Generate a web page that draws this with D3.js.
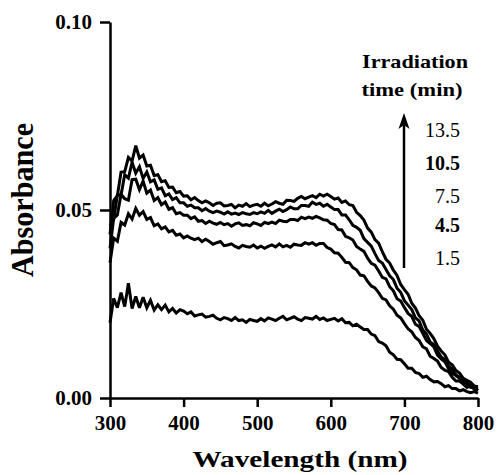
<!DOCTYPE html>
<html>
<head>
<meta charset="utf-8">
<script src="https://cdn.jsdelivr.net/npm/d3@7"></script>
<style>
  html, body { margin: 0; padding: 0; background: #fff; }
  svg { display: block; }
  text { font-family: "Liberation Serif", "Times New Roman", serif; fill: #000; }
</style>
</head>
<body>
<svg id="chart" width="500" height="475"></svg>
<script>
// ---- data ----
const wavelengths = [300,305,310,315,320,325,330,335,340,345,350,355,360,365,370,375,380,385,390,395,
  400,405,410,415,420,425,430,435,440,445,450,455,460,465,470,475,480,485,490,495,
  500,505,510,515,520,525,530,535,540,545,550,555,560,565,570,575,580,585,590,595,
  600,605,610,615,620,625,630,635,640,645,650,655,660,665,670,675,680,685,690,695,
  700,705,710,715,720,725,730,735,740,745,750,755,760,765,770,775,780,785,790,795,800];

const abs1_5 = [.0200,.0265,.0240,.0280,.0243,.0305,.0238,.0270,.0240,.0268,.0240,.0260,.0234,.0248,.0235,.0247,.0229,.0238,.0226,.0235,
  .0231,.0224,.0229,.0218,.0221,.0223,.0215,.0217,.0220,.0212,.0208,.0214,.0211,.0206,.0214,.0206,.0208,.0201,.0209,.0206,
  .0204,.0211,.0205,.0213,.0210,.0206,.0212,.0217,.0208,.0212,.0216,.0210,.0206,.0214,.0212,.0210,.0217,.0209,.0213,.0206,
  .0209,.0212,.0205,.0211,.0200,.0201,.0192,.0196,.0189,.0182,.0182,.0170,.0166,.0150,.0146,.0139,.0122,.0115,.0103,.0102,
  .0091,.0079,.0079,.0068,.0065,.0055,.0058,.0049,.0043,.0044,.0038,.0030,.0033,.0025,.0025,.0019,.0022,.0017,.0014,.0017,.0013];

const abs4_5 = [.0360,.0425,.0417,.0467,.0460,.0490,.0476,.0504,.0486,.0496,.0475,.0480,.0458,.0463,.0450,.0455,.0442,.0446,.0433,.0436,
  .0426,.0431,.0425,.0421,.0425,.0416,.0422,.0416,.0409,.0413,.0416,.0405,.0407,.0410,.0403,.0399,.0406,.0403,.0401,.0407,
  .0399,.0404,.0398,.0403,.0407,.0402,.0410,.0402,.0406,.0401,.0409,.0407,.0406,.0413,.0409,.0413,.0406,.0411,.0411,.0400,
  .0396,.0386,.0385,.0374,.0361,.0360,.0347,.0341,.0327,.0325,.0310,.0298,.0293,.0280,.0265,.0261,.0245,.0236,.0220,.0213,
  .0198,.0184,.0176,.0161,.0153,.0136,.0131,.0111,.0105,.0098,.0081,.0074,.0070,.0055,.0045,.0045,.0037,.0028,.0033,.0023,.0023];

const abs7_5 = [.0398,.0478,.0487,.0542,.0530,.0526,.0581,.0582,.0554,.0577,.0545,.0553,.0525,.0533,.0514,.0521,.0502,.0506,.0490,.0493,
  .0486,.0486,.0477,.0482,.0470,.0472,.0464,.0470,.0465,.0462,.0467,.0461,.0464,.0457,.0463,.0466,.0459,.0461,.0458,.0466,
  .0463,.0459,.0467,.0464,.0468,.0464,.0473,.0470,.0469,.0475,.0475,.0472,.0481,.0477,.0481,.0478,.0483,.0479,.0474,.0473,
  .0464,.0461,.0448,.0447,.0430,.0426,.0420,.0403,.0396,.0390,.0372,.0358,.0353,.0338,.0321,.0317,.0296,.0285,.0264,.0258,
  .0241,.0225,.0217,.0196,.0190,.0172,.0153,.0145,.0136,.0114,.0104,.0096,.0078,.0064,.0062,.0051,.0041,.0041,.0028,.0029,.0020];

const abs10_5 = [.0458,.0475,.0540,.0540,.0594,.0585,.0627,.0598,.0615,.0584,.0601,.0575,.0580,.0555,.0559,.0538,.0543,.0528,.0533,.0519,
  .0519,.0510,.0513,.0506,.0506,.0498,.0504,.0497,.0493,.0497,.0494,.0489,.0495,.0489,.0492,.0488,.0493,.0490,.0488,.0493,
  .0490,.0495,.0491,.0499,.0491,.0497,.0502,.0496,.0501,.0508,.0503,.0503,.0512,.0512,.0510,.0521,.0515,.0518,.0510,.0515,
  .0508,.0501,.0501,.0487,.0487,.0474,.0459,.0454,.0446,.0424,.0414,.0404,.0384,.0366,.0359,.0342,.0325,.0315,.0292,.0281,
  .0259,.0247,.0235,.0213,.0205,.0181,.0170,.0149,.0142,.0125,.0109,.0102,.0085,.0077,.0059,.0056,.0051,.0037,.0034,.0027,.0030];

const abs13_5 = [.0435,.0525,.0538,.0601,.0602,.0640,.0630,.0671,.0638,.0646,.0617,.0619,.0592,.0594,.0575,.0578,.0560,.0561,.0546,.0549,
  .0537,.0538,.0527,.0533,.0525,.0519,.0524,.0519,.0512,.0518,.0519,.0511,.0512,.0515,.0506,.0513,.0510,.0517,.0509,.0513,
  .0515,.0510,.0518,.0511,.0516,.0522,.0518,.0515,.0526,.0525,.0523,.0531,.0536,.0530,.0534,.0538,.0533,.0542,.0537,.0542,
  .0536,.0529,.0532,.0520,.0524,.0514,.0512,.0494,.0485,.0473,.0452,.0441,.0421,.0412,.0389,.0369,.0359,.0340,.0326,.0302,
  .0288,.0276,.0252,.0239,.0219,.0207,.0183,.0172,.0158,.0138,.0125,.0115,.0095,.0088,.0073,.0066,.0052,.0047,.0042,.0032,.0030];

const seriesList = [abs1_5, abs4_5, abs7_5, abs10_5, abs13_5];
const xTicks = [300, 400, 500, 600, 700, 800];
const yTicks = [0.00, 0.05, 0.10];
const legendLabels = ["13.5", "10.5", "7.5", "4.5", "1.5"];
const legendBold = [false, true, false, true, false];

// ---- drawing ----
const svg = d3.select("#chart");
const x = d3.scaleLinear().domain([300, 800]).range([110, 478]);
const y = d3.scaleLinear().domain([0, 0.10]).range([398, 22]);

const line = d3.line()
  .x((d, i) => x(wavelengths[i]))
  .y(d => y(d));

svg.append("g").selectAll("path")
  .data(seriesList)
  .join("path")
  .attr("d", line)
  .attr("fill", "none")
  .attr("stroke", "#000")
  .attr("stroke-width", 3)
  .attr("stroke-linejoin", "miter")
  .attr("stroke-miterlimit", 3);

const xAxis = svg.append("g")
  .attr("transform", "translate(0,398)")
  .call(d3.axisBottom(x).tickValues(xTicks).tickFormat(d3.format("d")).tickSize(9).tickSizeOuter(0).tickPadding(8));
const yAxis = svg.append("g")
  .attr("transform", "translate(110,0)")
  .call(d3.axisLeft(y).tickValues(yTicks).tickFormat(d3.format(".2f")).tickSize(10).tickSizeOuter(0).tickPadding(8));

[xAxis, yAxis].forEach(g => {
  g.select(".domain").attr("stroke", "#000").attr("stroke-width", 2.5);
  g.selectAll(".tick line").attr("stroke", "#000").attr("stroke-width", 2.5);
  g.selectAll(".tick text")
    .attr("fill", "#000")
    .style("font-family", '"Liberation Serif", serif')
    .style("font-weight", "bold")
    .style("font-size", "21px");
});
yAxis.selectAll(".tick text").attr("dy", "0.33em");

// axis titles
svg.append("text")
  .attr("x", 300).attr("y", 467)
  .attr("text-anchor", "middle")
  .attr("textLength", 215).attr("lengthAdjust", "spacingAndGlyphs")
  .style("font-weight", "bold").style("font-size", "23px")
  .text("Wavelength (nm)");

svg.append("text")
  .attr("transform", "translate(33,200) rotate(-90)")
  .attr("text-anchor", "middle")
  .attr("textLength", 154).attr("lengthAdjust", "spacingAndGlyphs")
  .style("font-weight", "bold").style("font-size", "31px")
  .text("Absorbance");

// legend
svg.append("text")
  .attr("x", 415).attr("y", 68)
  .attr("text-anchor", "middle")
  .attr("textLength", 106).attr("lengthAdjust", "spacingAndGlyphs")
  .style("font-weight", "bold").style("font-size", "19px")
  .text("Irradiation");
svg.append("text")
  .attr("x", 412).attr("y", 96)
  .attr("text-anchor", "middle")
  .attr("textLength", 101).attr("lengthAdjust", "spacingAndGlyphs")
  .style("font-weight", "bold").style("font-size", "19px")
  .text("time (min)");

const legendY = [137, 170, 203, 232, 265];
svg.append("g").selectAll("text")
  .data(legendLabels)
  .join("text")
  .attr("x", 460)
  .attr("y", (d, i) => legendY[i])
  .attr("text-anchor", "end")
  .style("font-size", "20px")
  .style("font-weight", (d, i) => legendBold[i] ? "bold" : "normal")
  .text(d => d);

// arrow
svg.append("line")
  .attr("x1", 404).attr("y1", 268)
  .attr("x2", 404).attr("y2", 125)
  .attr("stroke", "#000").attr("stroke-width", 2.5);
svg.append("path")
  .attr("d", "M404,113 L409.5,129 L404,125 L398.5,129 Z")
  .attr("fill", "#000");
</script>
</body>
</html>
